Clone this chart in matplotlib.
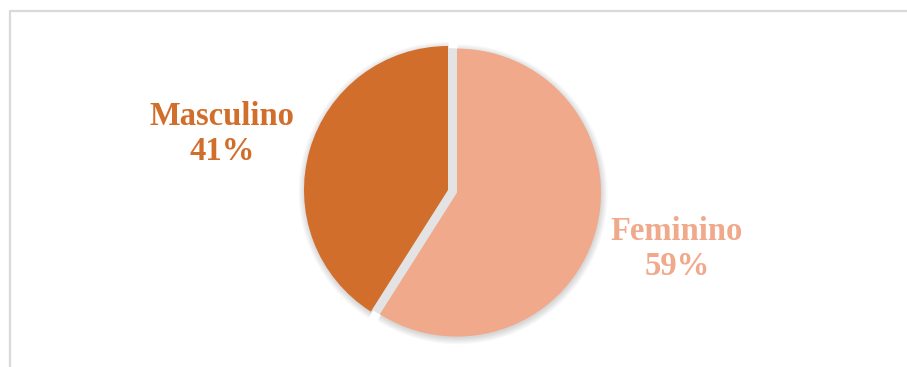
import matplotlib
matplotlib.use("Agg")
import matplotlib.pyplot as plt
from matplotlib.lines import Line2D

# share of respondents by sex
labels = ["Feminino", "Masculino"]
values = [59, 41]
colors = ["#F0A98B", "#D26E2B"]
explode = [0.065, 0.0]

W, H = 907, 367
R_PX = 144.0
CX, CY = 448.0, 190.0

fig = plt.figure(figsize=(W / 100, H / 100), dpi=100)
fig.patch.set_facecolor("white")
ax = fig.add_axes([0, 0, 1, 1])

# soft shadow under the pie, built from stacked translucent copies
for k in range(8):
    ax.pie(values, explode=explode, startangle=90, counterclock=False,
           radius=1.0 + 0.006 * k, center=(0.004, -0.012),
           colors=["black"] * len(values),
           wedgeprops=dict(alpha=0.018, linewidth=0))

# grey shade showing through the gap left by the pulled-out slice
ax.pie(values, startangle=90, counterclock=False, radius=0.985,
       colors=["#E3E3E3"] * len(values), wedgeprops=dict(linewidth=0))

ax.pie(values, explode=explode, startangle=90, counterclock=False,
       colors=colors, wedgeprops=dict(linewidth=0))

# pie() resets the limits, so fix them afterwards
ax.set_xlim(-CX / R_PX, (W - CX) / R_PX)
ax.set_ylim(-(H - CY) / R_PX, CY / R_PX)
ax.set_aspect("equal")
ax.axis("off")

# outside labels
total = sum(values)
label_pos = {"Feminino": (1.59, -0.41), "Masculino": (-1.57, 0.39)}
for name, val, col in zip(labels, values, colors):
    x, y = label_pos[name]
    ax.text(x, y, "%s\n%d%%" % (name, round(100.0 * val / total)),
            ha="center", va="center", color=col, fontsize=23.5,
            fontweight="bold", family=["Liberation Serif", "DejaVu Serif"],
            linespacing=1.15)

# chart frame (top and left edges visible)
fig.add_artist(Line2D([10 / W, 10 / W, 1.0], [0.0, 1 - 11 / H, 1 - 11 / H],
                      transform=fig.transFigure, color="#D9D9D9", linewidth=1.6))

fig.savefig("out.png", dpi=100)
